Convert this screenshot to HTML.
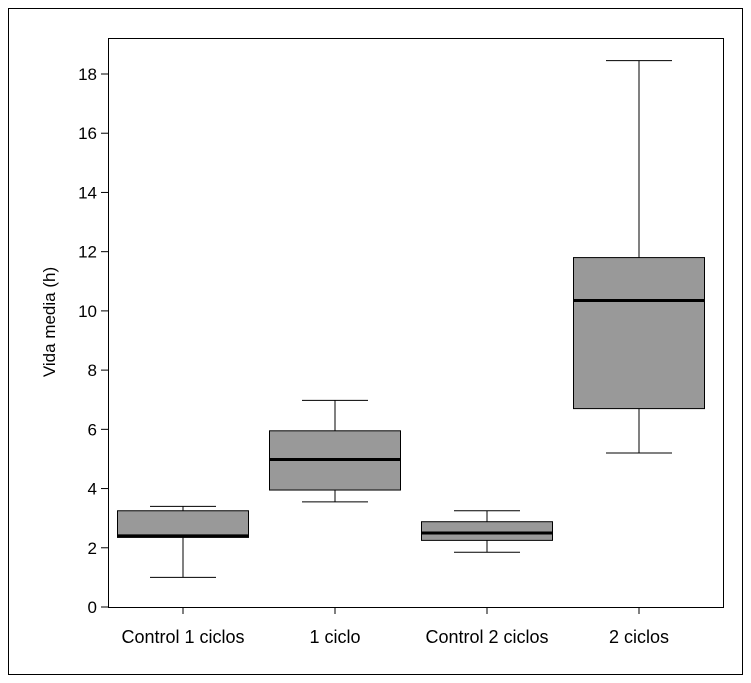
<!DOCTYPE html>
<html><head><meta charset="utf-8"><style>
html,body{margin:0;padding:0;background:#fff;}
svg{display:block;font-family:"Liberation Sans",Arial,sans-serif;}
</style></head><body>
<svg id="chart" width="751" height="683">
<rect x="8.5" y="8.5" width="734" height="666" fill="none" stroke="#000" stroke-width="1"/>
<rect x="108.5" y="38.5" width="615" height="569" fill="none" stroke="#000" stroke-width="1"/>
<text x="55" y="322" font-size="17" text-anchor="middle" transform="rotate(-90 55 322)">Vida media (h)</text>
<g id="g"></g>
</svg>
<script>
const categories=["Control 1 ciclos","1 ciclo","Control 2 ciclos","2 ciclos"];
const whiskerLow=[1.0,3.55,1.85,5.2];
const q1=[2.35,3.95,2.25,6.7];
const medians=[2.4,4.98,2.5,10.35];
const q3=[3.25,5.95,2.88,11.8];
const whiskerHigh=[3.4,6.98,3.25,18.45];
const yTicks=[0,2,4,6,8,10,12,14,16,18];
const NS="http://www.w3.org/2000/svg";
const g=document.getElementById('g');
const y=v=>607-v*(533/18);
const x=i=>183+i*152;
function mk(t,a){const e=document.createElementNS(NS,t);for(const k in a)e.setAttribute(k,a[k]);g.appendChild(e);return e;}
yTicks.forEach(v=>{
 const l=mk('line',{x1:101,x2:108,y1:y(v),y2:y(v),stroke:'#000'});
 
 
 const t=mk('text',{x:97,y:y(v)+6,'font-size':17,'text-anchor':'end'});
 t.textContent=v;
 
 
});
categories.forEach((c,i)=>{
 const cx=x(i);
 const tk=mk('line',{x1:cx,x2:cx,y1:607,y2:614,stroke:'#000'});
 
 
 const t=mk('text',{x:cx,y:643,'font-size':18,'text-anchor':'middle'});
 t.textContent=c;
 
 
 const w1=mk('line',{x1:cx,x2:cx,y1:y(whiskerLow[i]),y2:y(q1[i]),stroke:'#000'});
 
 
 const w2=mk('line',{x1:cx,x2:cx,y1:y(q3[i]),y2:y(whiskerHigh[i]),stroke:'#000'});
 
 
 [whiskerLow[i],whiskerHigh[i]].forEach(v=>{
  const cp=mk('line',{x1:cx-33,x2:cx+33,y1:y(v),y2:y(v),stroke:'#000'});
  
  
 });
 const b=mk('rect',{x:cx-65.5,y:y(q3[i]),width:131,height:y(q1[i])-y(q3[i]),fill:'#999',stroke:'#000','stroke-width':1});
 
 
 const m=mk('line',{x1:cx-65.5,x2:cx+65.5,y1:y(medians[i]),y2:y(medians[i]),stroke:'#000','stroke-width':3});
 
 
});
</script>
</body></html>
